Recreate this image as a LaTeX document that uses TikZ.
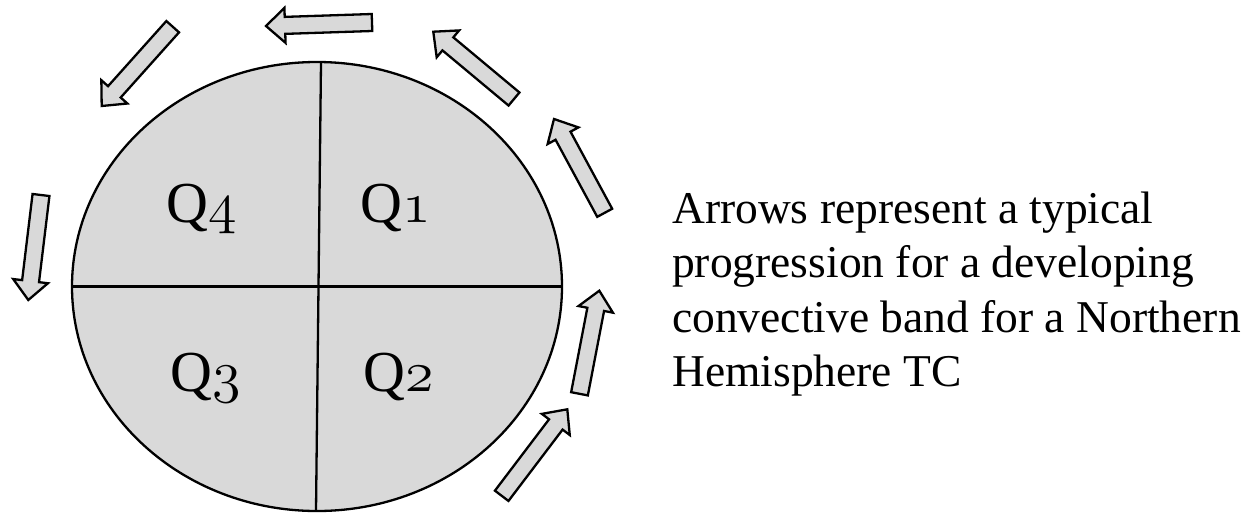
\documentclass[tikz,border=0pt]{standalone}
\usepackage{fontspec}
\newfontfamily\tnr{Liberation Serif}
\usetikzlibrary{calc,shapes.geometric}
\definecolor{fillgray}{HTML}{D9D9D9}
\font\myosffont=cmmi12 at 58pt
\newcommand\osnum[1]{{\myosffont #1}}
\tikzset{
  barrow/.style={draw=black, fill=fillgray, line width=2.3pt, line join=miter},
  divline/.style={draw=black, line width=2.3pt},
  qlab/.style={anchor=base, inner sep=0pt, font=\tnr\fontsize{58}{62}\selectfont},
  notetext/.style={anchor=north west, inner sep=0pt, align=left, font=\tnr\fontsize{45.5}{54.5}\selectfont}
}
% #1 name, #2 tail centre, #3 tip
\newcommand\blockarrow[3]{%
  \coordinate (#1t) at #2;
  \coordinate (#1p) at #3;
  \coordinate (#1h) at ($(#1p)!19pt!(#1t)$);
  \draw[barrow] ($(#1t)!8.5pt!90:(#1p)$) -- ($(#1h)!8.5pt!90:(#1p)$) -- ($(#1h)!17.5pt!90:(#1p)$)
    -- (#1p) -- ($(#1h)!17.5pt!-90:(#1p)$) -- ($(#1h)!8.5pt!-90:(#1p)$) -- ($(#1t)!8.5pt!-90:(#1p)$) -- cycle;
}
\begin{document}
\begin{tikzpicture}[x=1pt,y=-1pt]
\useasboundingbox (0,0) rectangle (1251,512);
\node[draw=black, fill=fillgray, ellipse, line width=2.3pt, minimum width=490pt, minimum height=449pt, inner sep=0pt, outer sep=0pt] (disk) at (317,286.5) {};
\coordinate (vtop) at (321,62.5);
\coordinate (vbot) at (316,511);
\draw[divline] (vtop) -- (vbot);
\draw[divline] (disk.west) -- (disk.east);
\node[qlab] (q4) at (202,222) {Q\osnum{4}};
\node[qlab] (q1) at (396,222) {Q\osnum{1}};
\node[qlab] (q3) at (206,391) {Q\osnum{3}};
\node[qlab] (q2) at (399,391) {Q\osnum{2}};
\blockarrow{a1}{(501.7,495.8)}{(567.3,409.3)}
\blockarrow{a2}{(579.5,393.8)}{(599.3,290.7)}
\blockarrow{a3}{(604.7,212.8)}{(554,119)}
\blockarrow{a4}{(514,99)}{(433.3,31.7)}
\blockarrow{a5}{(372,22.5)}{(266,26)}
\blockarrow{a6}{(172.7,26.7)}{(101.7,106)}
\blockarrow{a7}{(41,195)}{(28.3,300)}
\node[notetext] (note) at (672,191.5) {Arrows represent a typical\\progression for a developing\\convective band for a Northern\\Hemisphere TC};
\end{tikzpicture}
\end{document}
